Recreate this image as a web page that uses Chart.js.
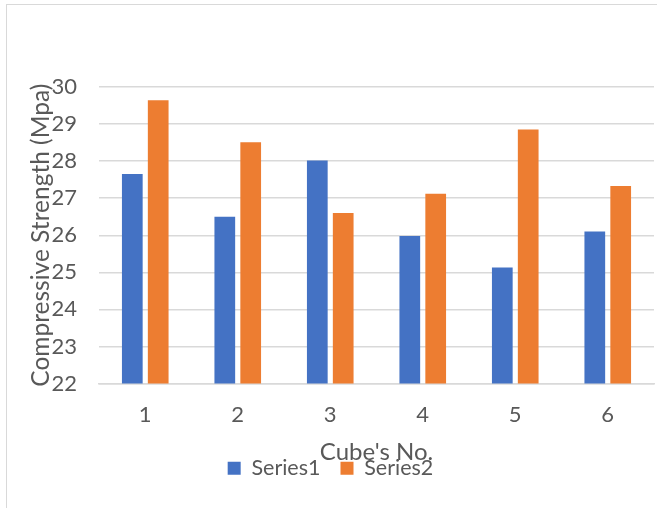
<!DOCTYPE html>
<html>
<head>
<meta charset="utf-8">
<script src="https://cdn.jsdelivr.net/npm/chart.js@4/dist/chart.umd.min.js"></script>
<style>
  html, body { margin: 0; padding: 0; background: #fff; }
  #frame {
    position: absolute; left: 6px; top: 4px; width: 651px; height: 504px;
    border-left: 1px solid #d9d9d9; border-top: 1px solid #d9d9d9;
  }
  #chart { display: block; }
</style>
</head>
<body>
<div id="frame"><canvas id="chart" width="651" height="504"></canvas></div>
<script>
// data
const cubes = ['1', '2', '3', '4', '5', '6'];
const series1 = [27.65, 26.5, 28.02, 25.98, 25.13, 26.1];
const series2 = [29.64, 28.51, 26.6, 27.12, 28.85, 27.33];
const yTicks = [22, 23, 24, 25, 26, 27, 28, 29, 30];

const BLUE = '#4472c4';
const ORANGE = '#ed7d31';
const TEXT = '#595959';
const GRID = '#d9d9d9';
const FONT = 'Lato, "Open Sans", sans-serif';

Chart.defaults.font.family = FONT;
Chart.defaults.color = TEXT;

const ctx = document.getElementById('chart').getContext('2d');
new Chart(ctx, {
  type: 'bar',
  data: {
    labels: cubes,
    datasets: [
      { label: 'Series1', data: series1, backgroundColor: BLUE },
      { label: 'Series2', data: series2, backgroundColor: ORANGE }
    ]
  },
  options: {
    responsive: false,
    animation: false,
    devicePixelRatio: 1,
    layout: { padding: { top: 82, right: 4, left: 0, bottom: 20 } },
    datasets: { bar: { categoryPercentage: 0.56, barPercentage: 0.8 } },
    plugins: {
      tooltip: { enabled: false },
      legend: {
        position: 'bottom',
        labels: {
          boxWidth: 13, boxHeight: 13, padding: 20,
          color: TEXT,
          font: { size: 21.5 }
        }
      }
    },
    scales: {
      x: {
        grid: { display: false, drawTicks: false },
        border: { color: GRID, width: 1.5 },
        ticks: { padding: 18, color: TEXT, font: { size: 22 } },
        title: { display: true, text: "Cube's No.", color: TEXT, font: { size: 24 }, padding: { top: 0, bottom: -29 } },
        afterFit: (s) => { s.height = 54; }
      },
      y: {
        min: 22, max: 30,
        afterBuildTicks: (s) => { s.ticks = yTicks.map(v => ({ value: v })); },
        grid: { color: GRID, lineWidth: 1.5, drawTicks: false },
        border: { display: false },
        ticks: { padding: 22, color: TEXT, font: { size: 22 } },
        title: { display: true, text: 'Compressive Strength (Mpa)', color: TEXT, font: { size: 24.5 }, padding: { top: 19, bottom: 0 } },
        afterFit: (s) => { s.width = 92; }
      }
    }
  }
});
</script>
</body>
</html>
